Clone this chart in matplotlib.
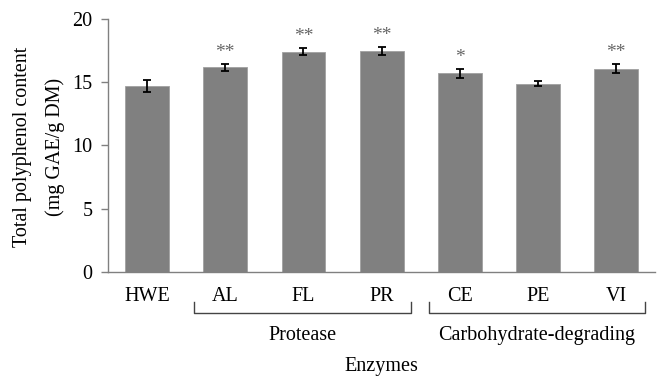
import matplotlib.pyplot as plt
import numpy as np

plt.rcParams['font.family'] = ['Liberation Serif', 'DejaVu Serif']

enzymes = ['HWE', 'AL', 'FL', 'PR', 'CE', 'PE', 'VI']
tpc = [14.7, 16.2, 17.42, 17.47, 15.72, 14.89, 16.08]
sd = [0.45, 0.28, 0.3, 0.3, 0.35, 0.2, 0.36]
stars = ['', '**', '**', '**', '*', '', '**']
groups = [('Protease', 1, 3), ('Carbohydrate-degrading', 4, 6)]

fig = plt.figure(figsize=(6.57, 3.76), dpi=100)
ax = fig.add_axes([0.1644, 0.2766, 0.833, 0.6729])

x = np.arange(len(enzymes))
ax.bar(x, tpc, width=0.56, color='#808080', edgecolor='#a0a0a0', linewidth=0.6, zorder=2)
ax.errorbar(x, tpc, yerr=sd, fmt='none', ecolor='black', elinewidth=1.3,
            capsize=3, capthick=1.3, zorder=3)

for xi, v, e, s in zip(x, tpc, sd, stars):
    if s:
        ax.annotate(s, (xi, v + e), xytext=(0, 2), textcoords='offset points',
                    ha='center', va='bottom', fontsize=14, color='#666666')

ax.set_xlim(-0.5, len(enzymes) - 0.5)
ax.set_ylim(0, 20)
ax.set_yticks([0, 5, 10, 15, 20])
ax.set_xticks(x)
ax.set_xticklabels(enzymes)
ax.tick_params(axis='x', length=0, pad=11, labelsize=14.5)
ax.tick_params(axis='y', length=5, width=1, color='#808080', direction='out', labelsize=14.5, pad=6)

for side in ['top', 'right']:
    ax.spines[side].set_visible(False)
for side in ['left', 'bottom']:
    ax.spines[side].set_color('#808080')
    ax.spines[side].set_linewidth(1)

fig.text(39 / 657, 1 - 147 / 376, 'Total polyphenol content\n(mg GAE/g DM)', rotation=90,
         ha='center', va='center', fontsize=14.5, linespacing=1.95, multialignment='center')

trans = ax.get_xaxis_transform()
for name, a, b in groups:
    x0, x1 = a - 0.4, b + 0.37
    ax.plot([x0, x0, x1, x1], [-0.119, -0.162, -0.162, -0.119], color='#444444',
            lw=1, transform=trans, clip_on=False)
    ax.text((x0 + x1) / 2, -0.25, name, transform=trans, ha='center', va='center',
            fontsize=14.5)

ax.text(0.5, -0.375, 'Enzymes', transform=ax.transAxes, ha='center', va='center', fontsize=14.5)

fig.savefig('out.png', dpi=100)
